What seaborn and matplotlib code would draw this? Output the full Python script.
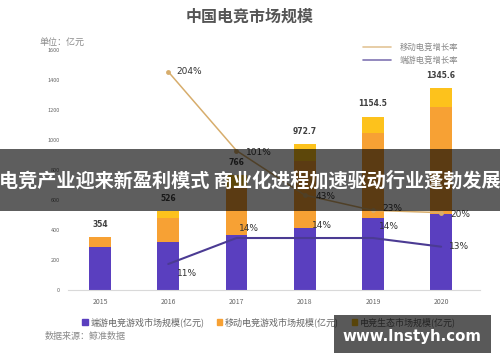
import numpy as np
import pandas as pd
import matplotlib
matplotlib.use("Agg")
import matplotlib.pyplot as plt
from matplotlib.patches import Rectangle, Patch
from matplotlib.lines import Line2D
import seaborn as sns

# ---- data ----
years = ["2015", "2016", "2017", "2018", "2019", "2020"]
pc_market = [289, 322, 367, 415, 480, 507]          # 端游电竞游戏市场规模
mobile_market = [62, 156, 312, 446, 569, 715]       # 移动电竞游戏市场规模
eco_market = [3, 48, 87, 111.7, 105.5, 123.6]       # 电竞生态市场规模
total_labels = ["354", "526", "766", "972.7", "1154.5", "1345.6"]
mobile_growth_years = ["2016", "2017", "2018", "2019", "2020"]
mobile_growth = [204, 101, 43, 23, 20]
pc_growth_years = ["2016", "2017", "2018", "2019", "2020"]
pc_growth = [11, 14, 14, 14, 13]

sns.set_theme(style="white")
plt.rcParams["font.family"] = ["Noto Sans CJK SC", "DejaVu Sans"]

C_PC = "#5a3fbf"
C_MOB = "#f7a134"
C_ECO = "#fdc21c"
C_LINE_MOB = "#d7ad6c"
C_LINE_PC = "#4b3b93"

df = pd.DataFrame({"year": years, "pc": pc_market, "mob": mobile_market, "eco": eco_market})
df["s1"] = df["pc"]
df["s2"] = df["pc"] + df["mob"]
df["s3"] = df["pc"] + df["mob"] + df["eco"]

fig = plt.figure(figsize=(5.0, 3.62), dpi=100)
ax = fig.add_axes([68/500, 1-290/362, 412/500, 240/362])

bw = 0.32
for col, c in (("s3", C_ECO), ("s2", C_MOB), ("s1", C_PC)):
    sns.barplot(data=df, x="year", y=col, order=years, color=c, width=bw,
                saturation=1, linewidth=0, edgecolor="none", ax=ax)

ax.set_xlim(-0.47, 5.57)
ax.set_ylim(0, 1600)
ax.set_yticks(np.arange(0, 1601, 200))
ax.set_yticklabels([str(v) for v in range(0, 1601, 200)], fontsize=4, color="#666666")
ax.tick_params(axis="y", length=0, pad=6)
ax.tick_params(axis="x", length=0, pad=6, labelsize=5, labelcolor="#666666")
ax.set_xlabel("")
ax.set_ylabel("")
for s in ["top", "right", "left"]:
    ax.spines[s].set_visible(False)
ax.spines["bottom"].set_color("#d9d9d9")
ax.spines["bottom"].set_linewidth(0.8)

for i, (tot, lab) in enumerate(zip(df["s3"], total_labels)):
    ax.annotate(lab, (i, tot), xytext=(0, 6), textcoords="offset points",
                ha="center", va="bottom", fontsize=5.5, fontweight="bold",
                color="#404040", family=["DejaVu Sans"])

# growth lines on hidden twin axes
pos = {y: i for i, y in enumerate(years)}
ax_m = ax.twinx()
ax_m.set_ylim(-81, 232.4)
ax_p = ax.twinx()
ax_p.set_ylim(8.0, 35.7)
for a in (ax_m, ax_p):
    a.set_xlim(-0.47, 5.57)
    a.axis("off")

mx = [pos[y] for y in mobile_growth_years]
px = [pos[y] for y in pc_growth_years]
sns.lineplot(x=mx, y=mobile_growth, ax=ax_m, color=C_LINE_MOB, linewidth=1.1,
             marker="o", markersize=3.5, markeredgewidth=0, legend=False)
sns.lineplot(x=px, y=pc_growth, ax=ax_p, color=C_LINE_PC, linewidth=1.5, legend=False)

mob_off = [(6, 0), (7, -1), (8, -1), (7, 1), (7, -1)]
for x, v, off in zip(mx, mobile_growth, mob_off):
    ax_m.annotate(f"{v}%", (x, v), xytext=off, textcoords="offset points",
                  ha="left", va="center", fontsize=6.5, color="#333333", family=["DejaVu Sans"])
pc_off = [(6, -7), (2, 7), (5, 9), (4, 8), (6, 0)]
for x, v, off in zip(px, pc_growth, pc_off):
    ax_p.annotate(f"{v}%", (x, v), xytext=off, textcoords="offset points",
                  ha="left", va="center", fontsize=6.5, color="#333333", family=["DejaVu Sans"])

# title & unit
fig.text(0.5, 1-17/362, "中国电竞市场规模", ha="center", va="center",
         fontsize=11.5, fontweight="bold", color="#555555")
fig.text(40/500, 1-42/362, "单位：亿元", ha="left", va="center", fontsize=6.5, color="#8a8a8a")

# top-right legend
h_top = [Line2D([], [], color=C_LINE_MOB, lw=1.2, alpha=0.7),
         Line2D([], [], color=C_LINE_PC, lw=1.2, alpha=0.7)]
fig.legend(h_top, ["移动电竞增长率", "端游电竞增长率"], loc="center left",
           bbox_to_anchor=(355/500, 1-54/362), frameon=False, fontsize=6,
           handlelength=3.4, handletextpad=1.1, labelspacing=0.45, labelcolor="#888888")

# bottom legend
h_bot = [Patch(color=C_PC), Patch(color=C_MOB), Patch(color=C_ECO)]
fig.legend(h_bot, ["端游电竞游戏市场规模(亿元)", "移动电竞游戏市场规模(亿元)", "电竞生态市场规模(亿元)"],
           loc="center left", bbox_to_anchor=(74/500, 1-322/362), ncol=3, frameon=False,
           fontsize=6.5, handlelength=0.6, handleheight=0.6, handletextpad=0.3,
           columnspacing=1.4, labelcolor="#666666")

fig.text(45/500, 1-337/362, "数据来源：鲸准数据", ha="left", va="center", fontsize=6.5, color="#8a8a8a")

# banner overlay
fig.patches.append(Rectangle((0, 1-211/362), 1, 62/362, transform=fig.transFigure,
                             facecolor="black", alpha=0.63, edgecolor="none", zorder=6))
fig.text(0.5, 1-181/362, "电竞产业迎来新盈利模式 商业化进程加速驱动行业蓬勃发展",
         ha="center", va="center", fontsize=13.8, fontweight="bold", color="white", zorder=7)

# watermark overlay
fig.patches.append(Rectangle((334/500, 1-353/362), 157/500, 38/362, transform=fig.transFigure,
                             facecolor="black", alpha=0.65, edgecolor="none", zorder=6))
fig.text(412/500, 1-337/362, "www.lnstyh.com", ha="center", va="center",
         fontsize=10.8, fontweight="bold", color="white", zorder=7, family=["DejaVu Sans"])

fig.savefig("out.png", dpi=100)
